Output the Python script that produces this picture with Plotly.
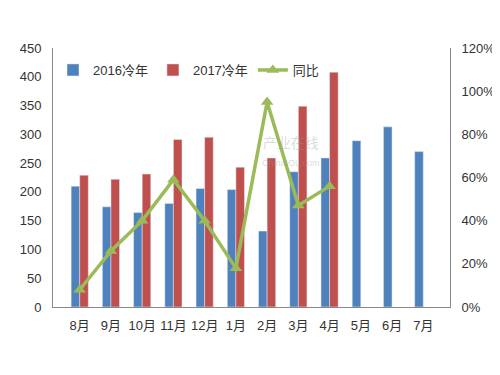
import plotly.graph_objects as go

months = ["8月", "9月", "10月", "11月", "12月", "1月", "2月", "3月", "4月", "5月", "6月", "7月"]
y2016 = [210, 174, 164, 180, 206, 204, 132, 235, 259, 289, 313, 270]
y2017 = [229, 222, 231, 291, 295, 243, 259, 349, 408, None, None, None]
yoy = [0.08, 0.26, 0.40, 0.59, 0.40, 0.18, 0.95, 0.47, 0.56, None, None, None]

font_family = "Liberation Sans, Noto Sans CJK SC, sans-serif"

fig = go.Figure()
fig.add_trace(go.Bar(x=months, y=y2016, name="2016冷年", marker_color="#4F81BD"))
fig.add_trace(go.Bar(x=months, y=y2017, name="2017冷年", marker_color="#C0504D"))
fig.add_trace(go.Scatter(x=months, y=yoy, name="同比", yaxis="y2", mode="lines+markers",
                         line=dict(color="#9BBB59", width=3.5),
                         marker=dict(symbol="triangle-up", size=11, color="#9BBB59")))

fig.add_annotation(x=0.6, y=0.6, xref="paper", yref="paper",
                   text="产业在线<br><span style='font-size:9px'>ChinaIOL.com</span>",
                   showarrow=False, font=dict(size=14, color="rgba(150,150,150,0.35)"))

fig.update_layout(
    width=492, height=367,
    margin=dict(l=45, r=50, t=40, b=68, autoexpand=False),
    paper_bgcolor="white", plot_bgcolor="white",
    font=dict(family=font_family, size=13, color="#333333"),
    barmode="group", bargap=0.45, bargroupgap=0,
    showlegend=True,
    legend=dict(orientation="h", x=0.0, y=0.915, xanchor="left", yanchor="middle",
                bgcolor="rgba(0,0,0,0)", font=dict(size=13), itemwidth=30,
                tracegroupgap=0),
    xaxis=dict(showline=True, linecolor="#888888", linewidth=1, ticks="", showgrid=False,
               automargin=False, ticklabelstandoff=6, tickfont=dict(size=13)),
    yaxis=dict(range=[0, 450], dtick=50, showline=True, linecolor="#888888", linewidth=1,
               showgrid=False, ticks="", zeroline=False, automargin=False,
               ticklabelstandoff=8, tickfont=dict(size=13)),
    yaxis2=dict(range=[0, 1.2], dtick=0.2, tickformat=".0%", overlaying="y", side="right",
                showline=True, linecolor="#888888", linewidth=1, showgrid=False, ticks="",
                zeroline=False, automargin=False, ticklabelstandoff=8,
                tickfont=dict(size=13)),
)

fig.write_html("out.html")
